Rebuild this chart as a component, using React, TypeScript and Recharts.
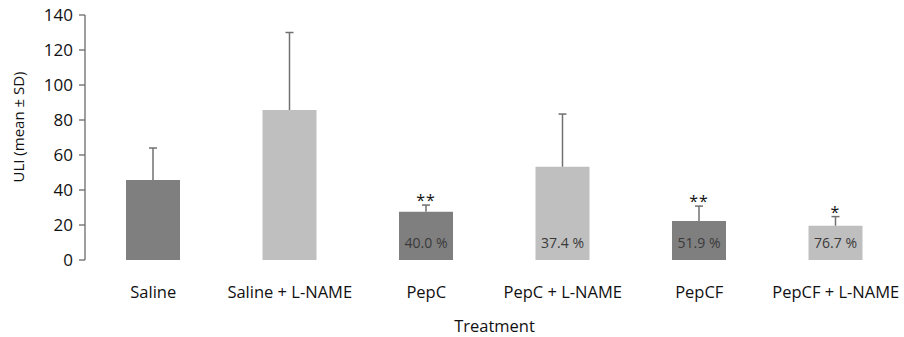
import React from 'react';
import { BarChart, Bar, XAxis, YAxis, LabelList, Cell, Label } from 'recharts';

const categories = ['Saline', 'Saline + L-NAME', 'PepC', 'PepC + L-NAME', 'PepCF', 'PepCF + L-NAME'];
const means = [45.7, 85.7, 27.6, 53.3, 22.3, 19.6];
const sds = [18.3, 44.3, 3.8, 30.1, 8.5, 5.2];
const percentLabels = ['', '', '40.0 %', '37.4 %', '51.9 %', '76.7 %'];
const significance = ['', '', '**', '', '**', '*'];
const barColors = ['#7f7f7f', '#bfbfbf', '#7f7f7f', '#bfbfbf', '#7f7f7f', '#bfbfbf'];
const yTicks = [0, 20, 40, 60, 80, 100, 120, 140];
const boundaryTicks = [0, 1, 2, 3, 4, 5, 6];

const data = categories.map((name, i) => ({
  name,
  idx: i + 0.5,
  mean: means[i],
  sd: sds[i],
  pct: percentLabels[i],
  sig: significance[i],
}));

const FONT = '"Open Sans", sans-serif';
const AXIS = '#6a6a6a';
const TEXT = '#111';

const CatTick = (props: any) => {
  const { x, y, payload } = props;
  return (
    <text x={x} y={y} dy={30} textAnchor="middle" fontFamily={FONT} fontSize={16.5} fill={TEXT}>
      {payload.value}
    </text>
  );
};

// upper-only error bar, positioned with the bar's own scale (height / value)
const ErrLabel = (props: any) => {
  const { x, y, width, height, index } = props;
  const errTop = y - (sds[index] * height) / means[index];
  const cx = x + width / 2;
  return (
    <g stroke="#707070" strokeWidth={1.5}>
      <line x1={cx} x2={cx} y1={y} y2={errTop} />
      <line x1={cx - 4} x2={cx + 4} y1={errTop} y2={errTop} />
    </g>
  );
};

const SigLabel = (props: any) => {
  const { x, y, width, height, index } = props;
  const s = significance[index];
  if (!s) return null;
  const errTop = y - (sds[index] * height) / means[index];
  return (
    <text x={x + width / 2} y={errTop + 1} textAnchor="middle" fontFamily={FONT} fontSize={16} fill={TEXT} letterSpacing={1}>
      {s}
    </text>
  );
};

const PctLabel = (props: any) => {
  const { x, y, width, height, index } = props;
  const s = percentLabels[index];
  if (!s) return null;
  return (
    <text x={x + width / 2} y={y + height - 12} textAnchor="middle" fontFamily={FONT} fontSize={14} fill="#3a3a3a">
      {s}
    </text>
  );
};

const YLabel = () => (
  <text
    x={18}
    y={127}
    transform="rotate(-90 18 127)"
    textAnchor="middle"
    dominantBaseline="central"
    fontFamily={FONT}
    fontSize={15}
    fill={TEXT}
  >
    ULI (mean ± SD)
  </text>
);

export default function App() {
  return (
    <div style={{ position: 'absolute', left: 0, top: 0, background: '#fff' }}>
      <BarChart width={904} height={337} data={data} margin={{ top: 15, right: 0, left: 0, bottom: 0 }}>
        <XAxis
          xAxisId="grid"
          dataKey="idx"
          type="number"
          domain={[0, 6]}
          ticks={boundaryTicks}
          allowDataOverflow
          tick={false}
          tickSize={6}
          height={0}
          stroke={AXIS}
          axisLine={{ stroke: AXIS, strokeWidth: 1.3 }}
          tickLine={{ stroke: AXIS, strokeWidth: 1.3 }}
        />
        <XAxis
          xAxisId="cat"
          dataKey="name"
          height={77}
          axisLine={false}
          tickLine={false}
          tick={<CatTick />}
          interval={0}
        >
          <Label value="Treatment" position="insideBottom" offset={5} fontFamily={FONT} fontSize={16.5} fill={TEXT} />
        </XAxis>
        <YAxis
          width={85}
          domain={[0, 140]}
          ticks={yTicks}
          interval={0}
          tickSize={6}
          tickMargin={6}
          axisLine={{ stroke: AXIS, strokeWidth: 1.3 }}
          tickLine={{ stroke: AXIS, strokeWidth: 1.3 }}
          tick={{ fontFamily: FONT, fontSize: 17, fill: TEXT }}
          label={<YLabel />}
        />
        <Bar xAxisId="cat" dataKey="mean" barSize={54} isAnimationActive={false}>
          {data.map((d, i) => (
            <Cell key={i} fill={barColors[i]} />
          ))}
          <LabelList dataKey="sd" content={<ErrLabel />} />
          <LabelList dataKey="sig" content={<SigLabel />} />
          <LabelList dataKey="pct" content={<PctLabel />} />
        </Bar>
      </BarChart>
    </div>
  );
}
